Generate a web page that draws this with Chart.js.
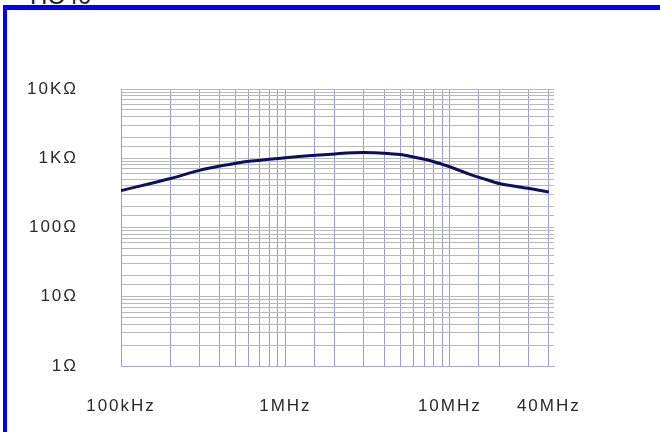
<!DOCTYPE html>
<html>
<head>
<meta charset="utf-8">
<title>HC40 impedance</title>
<script src="https://cdn.jsdelivr.net/npm/chart.js@4.4.1/dist/chart.umd.min.js"></script>
<style>
    html, body { margin: 0; padding: 0; background: #fff; overflow: hidden; }
    #wrap { position: relative; width: 660px; height: 432px; }
    #frame {
        position: absolute; left: 3px; top: 5px; right: 0; bottom: 0;
        border-top: 5px solid #0000ff; border-left: 4px solid #0000ff;
    }
    #title {
        position: absolute; left: 30px; top: -16px;
        font: 24px "Liberation Sans", Arial, sans-serif; line-height: 24px; color: #222;
    }
    #chart { position: absolute; left: 0; top: 0; }
</style>
</head>
<body>
<div id="wrap">
    <div id="title">HC40</div>
    <div id="frame"></div>
    <canvas id="chart" width="660" height="432"></canvas>
</div>
<script>
// impedance vs frequency
const freqs = [1e5, 2e5, 3e5, 4e5, 5e5, 6e5, 8e5, 1e6, 2e6, 3e6, 4e6, 5e6, 6e6, 7e6, 8e6, 9e6, 1e7, 1.3e7, 1.66e7, 2e7, 2.5e7, 3e7, 4e7];
const ohms  = [341, 511, 668, 772, 845, 904, 967, 1020, 1156, 1207, 1183, 1129, 1044, 967, 892, 817, 754, 596, 494, 431, 394, 368, 325];

const xTickValues = [1e5, 1e6, 1e7, 4e7];
const xTickLabels = ['100kHz', '1MHz', '10MHz', '40MHz'];
const yTickValues = [1, 10, 100, 1000, 10000];
const yTickLabels = ['1Ω', '10Ω', '100Ω', '1KΩ', '10KΩ'];

const labelFont = { family: '"Liberation Sans", Arial, sans-serif', size: 17 };

const spacingPlugin = {
    id: 'spacing',
    beforeDraw(chart){ chart.ctx.letterSpacing = '2px'; }
};

new Chart(document.getElementById('chart'), {
    type: 'line',
    data: {
        datasets: [{
            data: freqs.map((f, i) => ({ x: f, y: ohms[i] })),
            borderColor: '#0e0e5e',
            borderWidth: 3,
            pointRadius: 0,
            cubicInterpolationMode: 'monotone',
            fill: false
        }]
    },
    options: {
        responsive: false,
        animation: false,
        layout: { padding: { top: 89, right: 106, left: 0, bottom: 0 } },
        plugins: { legend: { display: false }, tooltip: { enabled: false } },
        scales: {
            x: {
                type: 'logarithmic',
                min: 1e5,
                max: 4.3e7,
                afterBuildTicks(scale){
                    scale.ticks = scale.ticks.filter(t => t.value <= 4e7 * 1.001);
                },
                afterFit(scale){ scale.height = 66; },
                grid: { color: '#9c9cd2', lineWidth: 1, drawTicks: false },
                border: { color: '#a8a8d0' },
                ticks: {
                    autoSkip: false,
                    maxRotation: 0,
                    padding: 30,
                    color: '#2a2a2a',
                    font: labelFont,
                    callback(v){
                        const i = xTickValues.findIndex(t => Math.abs(t - v) / t < 1e-6);
                        return i >= 0 ? xTickLabels[i] : '';
                    }
                }
            },
            y: {
                type: 'logarithmic',
                min: 1,
                max: 1e4,
                afterFit(scale){ scale.width = 121; },
                grid: { color: '#b8b8b8', lineWidth: 1, drawTicks: false },
                border: { color: '#9c9cd2' },
                ticks: {
                    autoSkip: false,
                    padding: 43,
                    color: '#2a2a2a',
                    font: labelFont,
                    callback(v){
                        const i = yTickValues.findIndex(t => Math.abs(t - v) / t < 1e-6);
                        return i >= 0 ? yTickLabels[i] : '';
                    }
                }
            }
        }
    },
    plugins: [spacingPlugin]
});
</script>
</body>
</html>
